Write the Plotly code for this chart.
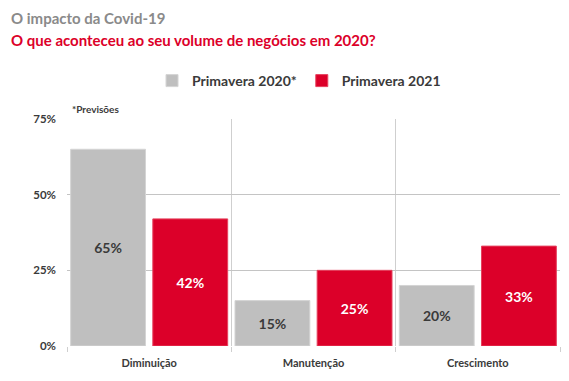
import plotly.graph_objects as go

categories = ["Diminuição", "Manutenção", "Crescimento"]
spring_2020 = [65, 15, 20]
spring_2021 = [42, 25, 33]
series_names = ["Primavera 2020*", "Primavera 2021"]
y_ticks = [0, 25, 50, 75]
y_tick_labels = ["0%", "25%", "50%", "75%"]

FONT = "Lato"
GRAY = "#bfbfbf"
RED = "#dc0029"
DARK = "#3a3a3a"

W, H = 569, 381
OFF = 8  # page body offset
L, R, T, B = 58.5, 16.5, 111, 43
PW, PH = W - L - R, H - T - B


def px(xs, ys):
    """screen pixel -> paper coords"""
    return (xs - OFF - L) / PW, 1 + (T - (ys - OFF)) / PH


xpos = list(range(len(categories)))
boundaries = [i - 0.5 for i in range(len(categories) + 1)]

fig = go.Figure()
fig.add_trace(go.Bar(
    x=xpos, y=spring_2020, name=series_names[0],
    marker=dict(color=GRAY, line=dict(color="#d4d4d4", width=1)),
    text=[f"{v}%" for v in spring_2020], textposition="inside",
    insidetextanchor="middle",
    textfont=dict(family=FONT, size=14, color=DARK, weight="bold"),
    hoverinfo="skip",
))
fig.add_trace(go.Bar(
    x=xpos, y=spring_2021, name=series_names[1],
    marker=dict(color=RED, line=dict(color="#e6425e", width=1)),
    text=[f"{v}%" for v in spring_2021], textposition="inside",
    insidetextanchor="middle",
    textfont=dict(family=FONT, size=14, color="white", weight="bold"),
    hoverinfo="skip",
))

t1x, t1y = px(8, 18)
t2x, t2y = px(8, 40)
pvx, pvy = px(70, 109)
lgx, lgy = px(299, 81)

fig.update_layout(
    width=W, height=H,
    margin=dict(l=L, r=R, t=T, b=B, autoexpand=False),
    paper_bgcolor="white", plot_bgcolor="white",
    barmode="group", bargap=0.0, bargroupgap=0.089,
    font=dict(family=FONT, color=DARK),
    showlegend=True,
    legend=dict(
        orientation="h", x=lgx, xanchor="center", y=lgy, yanchor="middle",
        font=dict(family=FONT, size=14, color=DARK, weight="bold"),
        itemwidth=30, traceorder="normal",
    ),
    xaxis=dict(
        range=[-0.5, len(categories) - 0.5], automargin=False,
        tickvals=xpos, ticktext=categories,
        showgrid=False, zeroline=False, ticks="", ticklabelstandoff=9,
        tickfont=dict(family=FONT, size=11, color=DARK, weight="bold"),
        minor=dict(tickvals=boundaries, showgrid=True, gridcolor="#cfcfcf",
                   gridwidth=1, ticks="outside", ticklen=5, tickcolor="#cfcfcf"),
        fixedrange=True,
    ),
    yaxis=dict(
        range=[0, 75], tickvals=y_ticks, ticktext=y_tick_labels, automargin=False,
        showgrid=True, gridcolor="#c4c4c4", gridwidth=1,
        zeroline=False, ticks="", ticklabelstandoff=10,
        tickfont=dict(family=FONT, size=11.5, color=DARK, weight="bold"),
        fixedrange=True,
    ),
    annotations=[
        dict(text="O impacto da Covid-19", xref="paper", yref="paper",
             x=t1x, xanchor="left", y=t1y, yanchor="middle",
             showarrow=False, font=dict(family=FONT, size=15, color="#8a8a8a", weight="bold")),
        dict(text="O que aconteceu ao seu volume de negócios em 2020?", xref="paper", yref="paper",
             x=t2x, xanchor="left", y=t2y, yanchor="middle",
             showarrow=False, font=dict(family=FONT, size=15, color=RED, weight="bold")),
        dict(text="*Previsões", xref="paper", yref="paper",
             x=pvx, xanchor="left", y=pvy, yanchor="middle",
             showarrow=False, font=dict(family=FONT, size=10, color=DARK, weight="bold")),
    ],
)

fig.write_html("out.html")
